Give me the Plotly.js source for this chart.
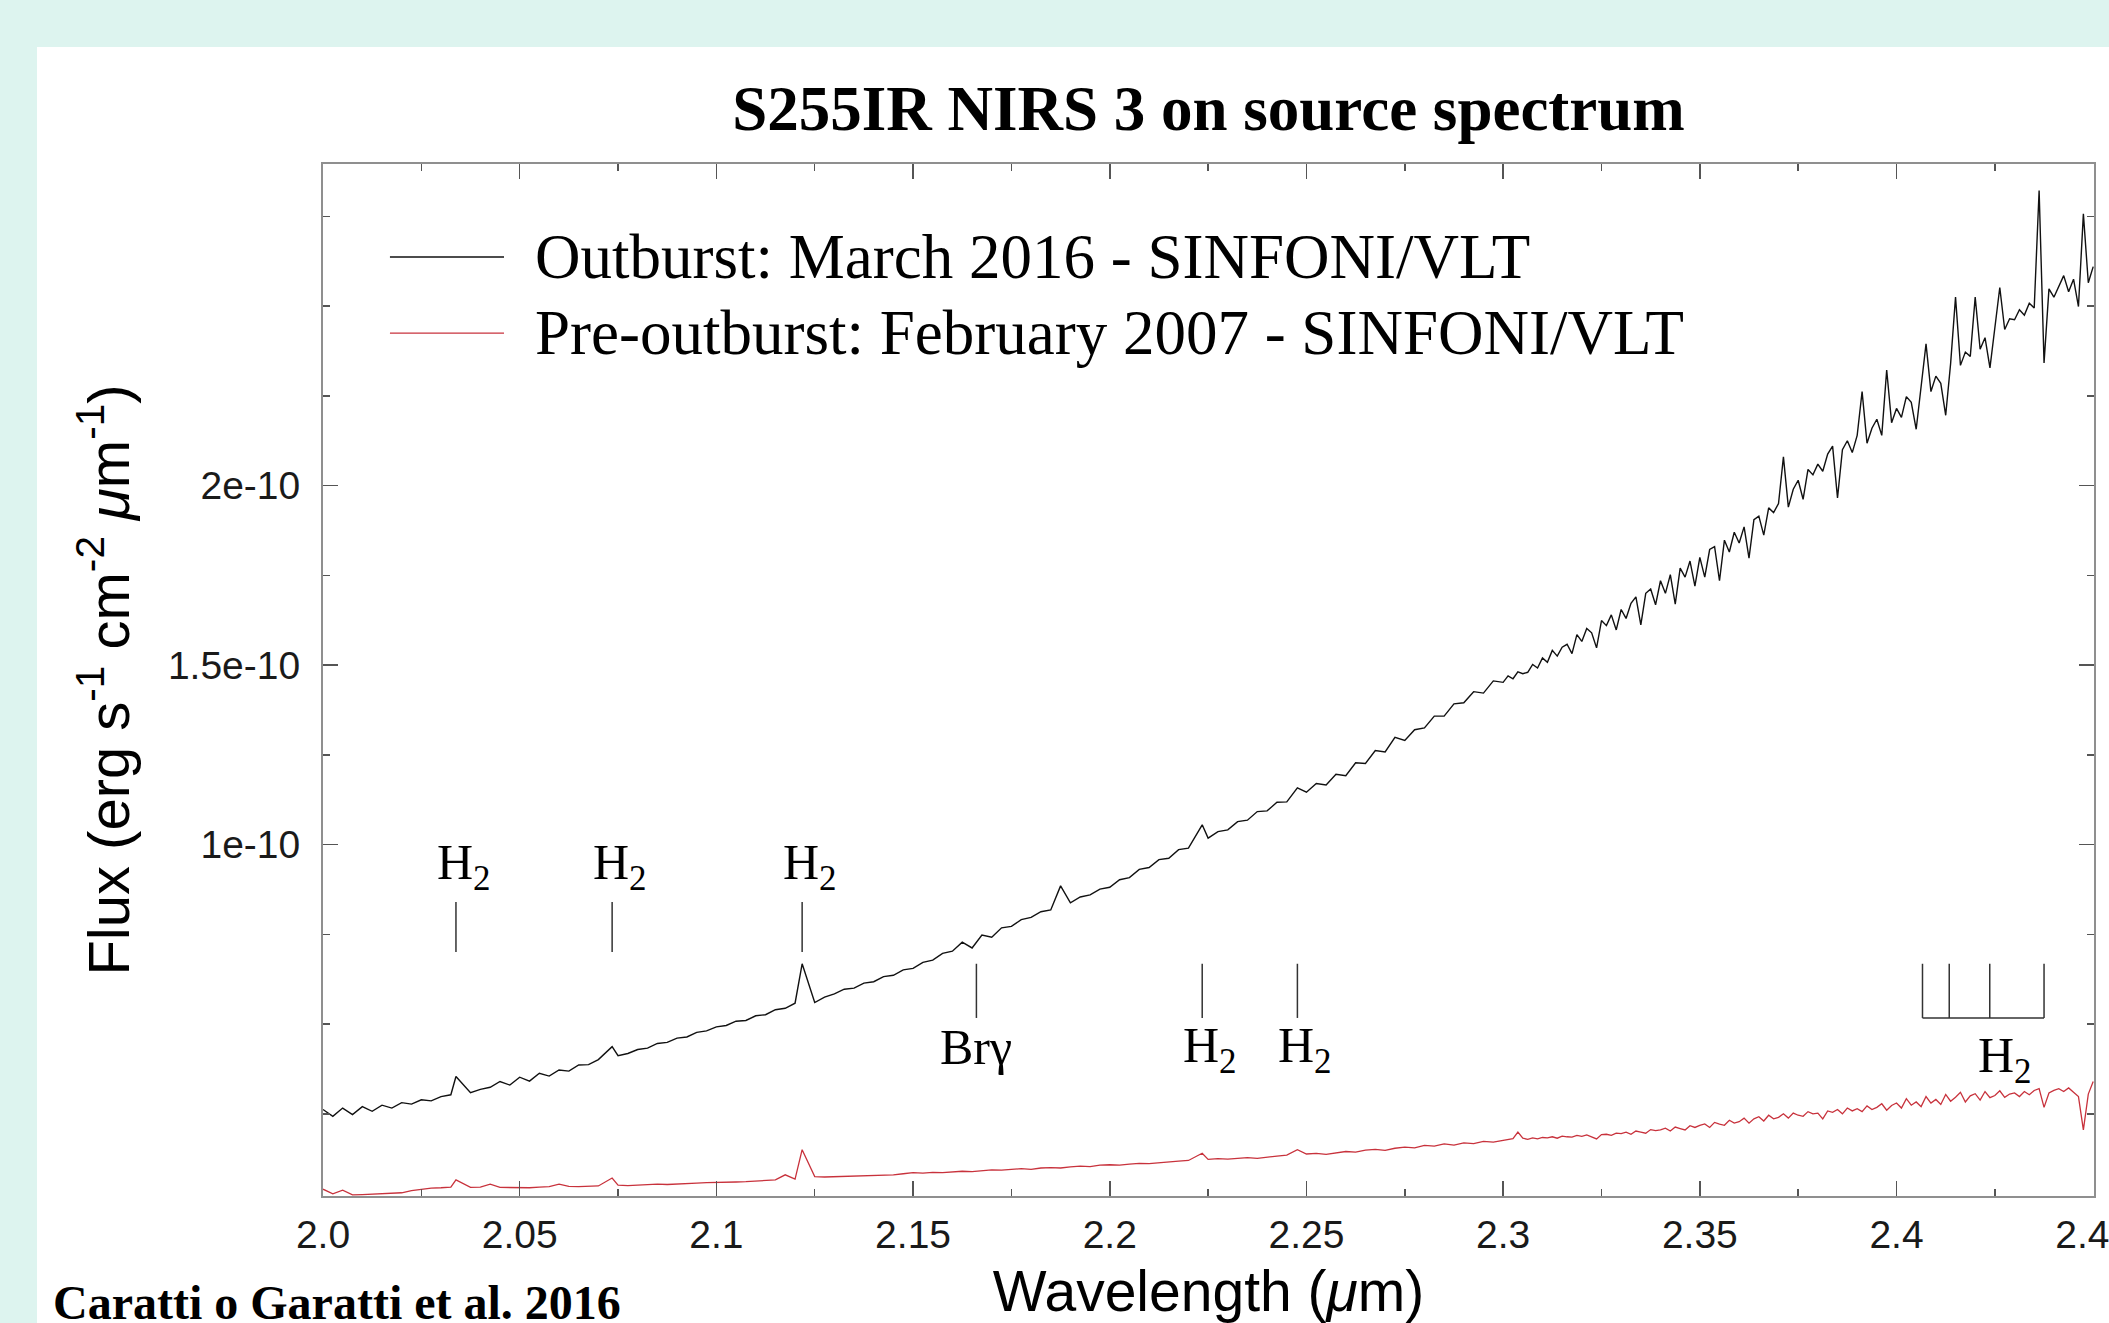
<!DOCTYPE html>
<html>
<head>
<meta charset="utf-8">
<script src="https://cdn.plot.ly/plotly-3.0.1.min.js"></script>
<style>
  html, body { margin:0; padding:0; width:2109px; height:1323px; overflow:hidden; background:#ddf4ef; }
  #panel { position:absolute; left:37px; top:47px; right:0; bottom:0; background:#ffffff; }
  #chart { position:absolute; left:0; top:0; width:2109px; height:1323px; }
</style>
</head>
<body>
<div id="panel"></div>
<div id="chart"></div>
<script>
// ---------------- DATA ----------------
// Wavelength (micron)
const wavelength = [
2.0000,2.0025,2.0050,2.0075,2.0100,2.0125,2.0150,2.0175,2.0200,2.0225,
2.0250,2.0275,2.0300,2.0325,2.0338,2.0375,2.0400,2.0425,2.0450,2.0475,
2.0500,2.0525,2.0550,2.0575,2.0600,2.0625,2.0650,2.0675,2.0700,2.0735,
2.0750,2.0775,2.0800,2.0825,2.0850,2.0875,2.0900,2.0925,2.0950,2.0975,
2.1000,2.1025,2.1050,2.1075,2.1100,2.1125,2.1150,2.1175,2.1200,2.1218,
2.1250,2.1275,2.1300,2.1325,2.1350,2.1375,2.1400,2.1425,2.1450,2.1475,
2.1500,2.1525,2.1550,2.1575,2.1600,2.1625,2.1650,2.1675,2.1700,2.1725,
2.1750,2.1775,2.1800,2.1825,2.1850,2.1875,2.1900,2.1925,2.1950,2.1975,
2.2000,2.2025,2.2050,2.2075,2.2100,2.2125,2.2150,2.2175,2.2200,2.2235,
2.2250,2.2275,2.2300,2.2325,2.2350,2.2375,2.2400,2.2425,2.2450,2.2477,
2.2500,2.2525,2.2550,2.2575,2.2600,2.2625,2.2650,2.2675,2.2700,2.2725,
2.2750,2.2775,2.2800,2.2825,2.2850,2.2875,2.2900,2.2925,2.2950,2.2975,
2.30000,2.30125,2.30250,2.30375,2.30500,2.30625,2.30750,2.30875,
2.31000,2.31125,2.31250,2.31375,2.31500,2.31625,2.31750,2.31875,
2.32000,2.32125,2.32250,2.32375,2.32500,2.32625,2.32750,2.32875,
2.33000,2.33125,2.33250,2.33375,2.33500,2.33625,2.33750,2.33875,
2.34000,2.34125,2.34250,2.34375,2.34500,2.34625,2.34750,2.34875,
2.35000,2.35125,2.35250,2.35375,2.35500,2.35625,2.35750,2.35875,
2.36000,2.36125,2.36250,2.36375,2.36500,2.36625,2.36750,2.36875,
2.37000,2.37125,2.37250,2.37375,2.37500,2.37625,2.37750,2.37875,
2.38000,2.38125,2.38250,2.38375,2.38500,2.38625,2.38750,2.38875,
2.39000,2.39125,2.39250,2.39375,2.39500,2.39625,2.39750,2.39875,
2.40000,2.40125,2.40250,2.40375,2.40500,2.40625,2.40750,2.40875,
2.41000,2.41125,2.41250,2.41375,2.41500,2.41625,2.41750,2.41875,
2.42000,2.42125,2.42250,2.42375,2.42500,2.42625,2.42750,2.42875,
2.43000,2.43125,2.43250,2.43375,2.43500,2.43625,2.43750,2.43875,
2.44000,2.44125,2.44250,2.44375,2.44500,2.44625,2.44750,2.44875,
2.45000
];

// Flux, in units of 1e-10 erg s^-1 cm^-2 um^-1
const fluxOutburst2016 = [
.262,.243,.266,.248,.270,.257,.274,.266,.281,.277,
.289,.286,.298,.303,.354,.309,.318,.324,.340,.330,
.352,.341,.363,.355,.372,.369,.386,.387,.401,.437,
.412,.418,.429,.433,.446,.449,.461,.464,.477,.481,
.492,.496,.508,.510,.523,.526,.540,.544,.558,.668,
.560,.575,.584,.597,.600,.614,.618,.632,.636,.651,
.655,.672,.678,.697,.703,.728,.712,.748,.742,.768,
.772,.791,.797,.813,.818,.885,.838,.854,.860,.876,
.881,.902,.908,.931,.936,.958,.962,.986,.990,1.055,
1.018,1.036,1.041,1.064,1.068,1.092,1.094,1.118,1.119,1.158,
1.146,1.170,1.166,1.196,1.192,1.228,1.226,1.262,1.258,1.299,
1.290,1.320,1.325,1.358,1.358,1.392,1.395,1.426,1.422,1.456,
1.452,1.470,1.462,1.481,1.476,1.480,1.502,1.492,
1.520,1.508,1.541,1.525,1.550,1.558,1.532,1.585,
1.566,1.602,1.590,1.548,1.624,1.610,1.640,1.598,
1.655,1.630,1.672,1.690,1.612,1.700,1.712,1.668,
1.735,1.700,1.752,1.670,1.770,1.745,1.790,1.720,
1.800,1.745,1.822,1.830,1.735,1.848,1.815,1.870,
1.840,1.885,1.798,1.905,1.915,1.862,1.938,1.925,
1.950,2.080,1.940,1.990,2.015,1.962,2.045,2.030,
2.060,2.040,2.088,2.110,1.966,2.100,2.125,2.092,
2.140,2.262,2.118,2.160,2.185,2.140,2.322,2.175,
2.215,2.190,2.248,2.232,2.157,2.270,2.395,2.262,
2.305,2.285,2.196,2.340,2.525,2.335,2.372,2.360,
2.525,2.380,2.412,2.328,2.440,2.552,2.435,2.465,
2.462,2.490,2.475,2.508,2.495,2.822,2.342,2.548,
2.525,2.555,2.585,2.540,2.575,2.499,2.757,2.565,
2.610
];

const fluxPreOutburst2007 = [
.040,.027,.037,.024,.025,.026,.027,.029,.030,.036,
.040,.043,.044,.046,.066,.045,.046,.054,.045,.044,
.045,.044,.046,.047,.054,.048,.047,.048,.049,.071,
.051,.050,.052,.052,.054,.053,.055,.055,.057,.058,
.058,.060,.060,.061,.063,.064,.066,.080,.068,.150,
.075,.074,.075,.076,.075,.077,.078,.079,.080,.083,
.086,.085,.087,.086,.089,.090,.089,.092,.094,.093,
.096,.097,.095,.099,.100,.099,.102,.104,.103,.107,
.108,.107,.110,.112,.111,.114,.115,.118,.120,.140,
.123,.125,.124,.127,.128,.126,.130,.132,.135,.150,
.138,.140,.137,.142,.145,.143,.149,.151,.148,.154,
.157,.155,.162,.160,.166,.163,.169,.167,.173,.171,
.176,.178,.181,.199,.182,.179,.183,.180,
.184,.183,.186,.182,.188,.186,.185,.190,
.187,.191,.186,.180,.192,.193,.190,.196,
.195,.199,.193,.202,.199,.196,.206,.203,
.205,.210,.202,.213,.209,.205,.217,.212,
.218,.222,.212,.226,.221,.218,.232,.224,
.228,.238,.224,.236,.242,.230,.246,.236,
.240,.250,.238,.252,.246,.243,.256,.250,
.252,.236,.258,.254,.262,.250,.266,.258,
.264,.256,.272,.262,.268,.278,.260,.273,
.280,.266,.292,.274,.283,.270,.298,.280,
.290,.276,.304,.285,.296,.310,.283,.300,
.306,.288,.312,.295,.301,.314,.296,.305,
.308,.298,.312,.303,.315,.320,.268,.308,
.315,.320,.312,.322,.310,.298,.205,.305,
.340
];

const seriesNames = ['Outburst: March 2016 - SINFONI/VLT', 'Pre-outburst: February 2007 - SINFONI/VLT'];

// Tick labels
const xTickVals = [2.0, 2.05, 2.1, 2.15, 2.2, 2.25, 2.3, 2.35, 2.4, 2.45];
const xTickText = ['2.0', '2.05', '2.1', '2.15', '2.2', '2.25', '2.3', '2.35', '2.4', '2.45'];
const yTickVals = [1.0, 1.5, 2.0];
const yTickText = ['1e-10', '1.5e-10', '2e-10'];

// Line identifications
const upperLineWl = [2.0338, 2.0735, 2.1218];
const upperLineLabel = ['H<sub>2</sub>', 'H<sub>2</sub>', 'H<sub>2</sub>'];
const lowerLineWl = [2.1661, 2.2235, 2.2477];
const lowerLineLabel = ['Brγ', 'H<sub>2</sub>', 'H<sub>2</sub>'];
const qBranchWl = [2.4066, 2.4134, 2.4237, 2.4375];
const qBranchLabel = 'H<sub>2</sub>';

// ---------------- STYLE ----------------
const BLACK = '#111111';
const RED = '#c8323c';
const SERIF = 'Liberation Serif, Times New Roman, serif';
const SANS = 'Liberation Sans, Arial, sans-serif';

const traces = [
  { x: wavelength, y: fluxOutburst2016, type: 'scatter', mode: 'lines', name: seriesNames[0],
    line: { color: BLACK, width: 1.4 } },
  { x: wavelength, y: fluxPreOutburst2007, type: 'scatter', mode: 'lines', name: seriesNames[1],
    line: { color: RED, width: 1.3 } }
];

const shapes = [];
const annotations = [];
const markLine = { color: '#333333', width: 1.5 };
const labelFont = { family: SERIF, size: 50, color: '#000' };

// upper group marks
const upY0 = 0.701, upY1 = 0.840, upLabelY = 0.941;
upperLineWl.forEach((wl, i) => {
  shapes.push({ type: 'line', xref: 'x', yref: 'y', x0: wl, x1: wl, y0: upY0, y1: upY1, line: markLine });
  annotations.push({ xref: 'x', yref: 'y', x: wl, y: upLabelY, xshift: 8, text: upperLineLabel[i],
    showarrow: false, xanchor: 'center', yanchor: 'middle', font: labelFont });
});
// lower group marks
const loY0 = 0.517, loY1 = 0.668, loLabelY = 0.431;
lowerLineWl.forEach((wl, i) => {
  shapes.push({ type: 'line', xref: 'x', yref: 'y', x0: wl, x1: wl, y0: loY0, y1: loY1, line: markLine });
  const isH2 = lowerLineLabel[i].indexOf('H') === 0;
  annotations.push({ xref: 'x', yref: 'y', x: wl, y: isH2 ? loLabelY : loLabelY + 0.005, xshift: isH2 ? 8 : 0, text: lowerLineLabel[i],
    showarrow: false, xanchor: 'center', yanchor: 'middle', font: labelFont });
});
// Q-branch bracket
qBranchWl.forEach((wl) => {
  shapes.push({ type: 'line', xref: 'x', yref: 'y', x0: wl, x1: wl, y0: loY0, y1: loY1, line: markLine });
});
shapes.push({ type: 'line', xref: 'x', yref: 'y', x0: qBranchWl[0], x1: qBranchWl[qBranchWl.length - 1],
  y0: loY0, y1: loY0, line: markLine });
annotations.push({ xref: 'x', yref: 'y', x: 2.4256, y: 0.402, xshift: 8, text: qBranchLabel,
  showarrow: false, xanchor: 'center', yanchor: 'middle', font: labelFont });

// custom legend (line samples + text)
const legendRows = [0.9099, 0.8362];
const legendColors = [BLACK, RED];
legendRows.forEach((yy, i) => {
  shapes.push({ type: 'line', xref: 'paper', yref: 'paper', x0: 0.0378, x1: 0.1022, y0: yy, y1: yy,
    line: { color: legendColors[i], width: 1.3 } });
  annotations.push({ xref: 'paper', yref: 'paper', x: 0.1186, y: yy, xanchor: 'left', yanchor: 'middle',
    text: seriesNames[i], showarrow: false, font: { family: SERIF, size: 63, color: '#000' } });
});

// credit
annotations.push({ xref: 'paper', yref: 'paper', x: -0.1536, y: -0.103, xanchor: 'left', yanchor: 'middle',
  text: '<b>Caratti o Garatti et al. 2016</b>', showarrow: false, font: { family: SERIF, size: 48, color: '#000' } });

const axisCommon = {
  ticks: 'inside', ticklen: 15, tickwidth: 1.5, tickcolor: '#555555',
  showline: true, linecolor: '#8f8f8f', linewidth: 2, mirror: 'ticks',
  showgrid: false, zeroline: false, automargin: false
};

const layout = {
  width: 2109, height: 1323,
  margin: { l: 323, r: 15, t: 164, b: 127, pad: 0 },
  paper_bgcolor: 'rgba(0,0,0,0)', plot_bgcolor: '#ffffff',
  showlegend: false, hovermode: false,
  title: { text: '<b>S255IR NIRS 3 on source spectrum</b>', font: { family: SERIF, size: 63, color: '#000' },
    x: 0.5, xref: 'paper', xanchor: 'center', y: 1 - 108 / 1323, yref: 'container', yanchor: 'middle' },
  xaxis: Object.assign({}, axisCommon, {
    range: [2.0, 2.4502],
    tickmode: 'array', tickvals: xTickVals, ticktext: xTickText,
    tickfont: { family: SANS, size: 39, color: '#1a1a1a' },
    ticklabeloverflow: 'allow', ticklabelstandoff: 3,
    minor: { tickmode: 'linear', tick0: 2.0, dtick: 0.025, ticks: 'inside', ticklen: 7, tickwidth: 1.5, tickcolor: '#555555', showgrid: false },
    title: { text: 'Wavelength (<i>μ</i>m)', font: { family: SANS, size: 57, color: '#000' }, standoff: 22 }
  }),
  yaxis: Object.assign({}, axisCommon, {
    range: [0.021, 2.896],
    tickmode: 'array', tickvals: yTickVals, ticktext: yTickText,
    tickfont: { family: SANS, size: 39, color: '#1a1a1a' },
    ticklabelstandoff: 13,
    minor: { tickmode: 'linear', tick0: 0, dtick: 0.25, ticks: 'inside', ticklen: 7, tickwidth: 1.5, tickcolor: '#555555', showgrid: false },
    title: { text: 'Flux (erg s<sup>-1</sup> cm<sup>-2</sup> <i>μ</i>m<sup>-1</sup>)', font: { family: SANS, size: 58, color: '#000' }, standoff: 20 }
  }),
  shapes: shapes,
  annotations: annotations
};

Plotly.newPlot('chart', traces, layout, { displayModeBar: false, staticPlot: true });
</script>
</body>
</html>
